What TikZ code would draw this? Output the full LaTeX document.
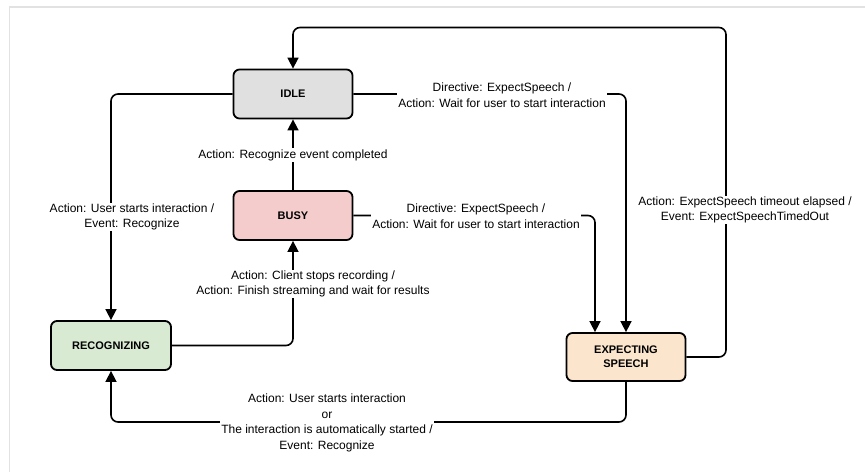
\documentclass[tikz,border=0pt]{standalone}
\usepackage{fontspec}
\setmainfont{Liberation Sans}
\usepackage{tikz}
\usetikzlibrary{arrows.meta,positioning}
\definecolor{idlegray}{RGB}{224,224,224}
\definecolor{busypink}{RGB}{244,204,204}
\definecolor{recgreen}{RGB}{217,234,211}
\definecolor{exppeach}{RGB}{252,229,205}
\definecolor{framegray}{RGB}{226,226,226}
\definecolor{inkblack}{RGB}{0,0,0}

\begin{document}
\begin{tikzpicture}[x=1pt, y=-1pt,
  state/.style={draw=inkblack, line width=1.8pt, rounded corners=6pt, minimum width=119pt, minimum height=49pt, align=center, font=\fontsize{11}{14}\selectfont\bfseries},
  lab/.style={fill=white, inner sep=1pt, align=center, font=\fontsize{12}{15.5}\selectfont},
  arr/.style={-{Triangle[length=11pt,width=11pt]}, line width=1.6pt, rounded corners=7pt}
]
\useasboundingbox (0,0) rectangle (865,472);
\draw[framegray, line width=1.5pt] (9.5,472) -- (9.5,7) -- (865,7);
\node[state, fill=idlegray] (idle) at (293,94) {IDLE};
\node[state, fill=busypink] (busy) at (293,215.5) {BUSY};
\node[state, fill=recgreen, minimum width=120pt] (rec) at (111,345.5) {RECOGNIZING};
\node[state, fill=exppeach, minimum height=48pt] (exps) at (626,357) {EXPECTING\\SPEECH};
\coordinate (tr) at (726,27.5);
\coordinate (bl) at (111,422);
\draw[arr] (idle.west) -| (rec.north); \draw[arr] (busy.north) -- (idle.south);
\draw[arr] (rec.east) -| (busy.south); \draw[arr] (busy.east) -| ([xshift=-31pt]exps.north);
\draw[arr] (idle.east) -| (exps.north); \draw[arr] (exps.east) -| (tr) -| (idle.north);
\draw[arr] (exps.south) |- (bl) -- (rec.south);
\node[lab] (l1) at (132,217) {Action: User starts interaction /\\Event: Recognize};
\node[lab] (l2) at (293,155) {Action: Recognize event completed};
\node[lab] (l3) at (313,284) {Action: Client stops recording /\\Action: Finish streaming and wait for results};
\node[lab] (l4) at (476,216) {Directive: ExpectSpeech /\\Action: Wait for user to start interaction};
\node[lab] (l5) at (502,95) {Directive: ExpectSpeech /\\Action: Wait for user to start interaction};
\node[lab] (l6) at (745,210) {Action: ExpectSpeech timeout elapsed /\\Event: ExpectSpeechTimedOut};
\node[lab] (l7) at (327,423) {Action: User starts interaction\\or\\The interaction is automatically started /\\Event: Recognize};
\end{tikzpicture}
\end{document}
